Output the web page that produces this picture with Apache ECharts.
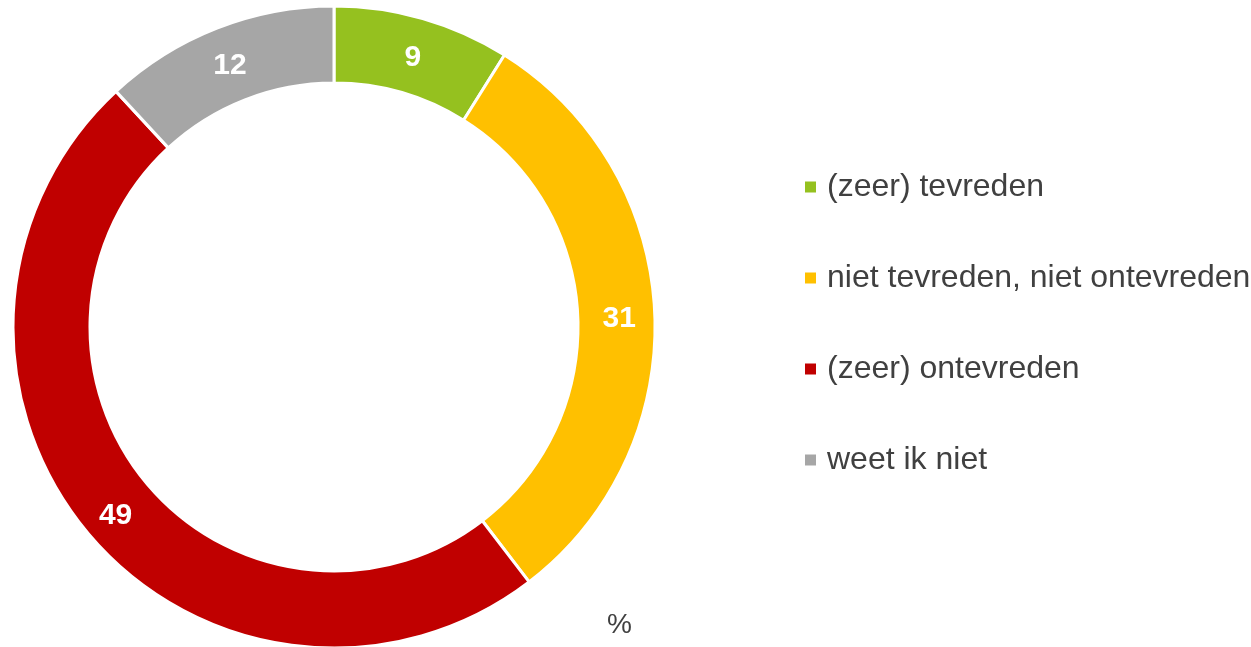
<!DOCTYPE html>
<html>
<head>
<meta charset="utf-8">
<script src="https://cdn.jsdelivr.net/npm/echarts@6/dist/echarts.min.js"></script>
<style>
  html, body { margin: 0; padding: 0; background: #fff; }
  #chart { width: 1251px; height: 647px; }
</style>
</head>
<body>
<div id="chart"></div>
<script>
  // categories and percentages
  const categories = ['(zeer) tevreden', 'niet tevreden, niet ontevreden', '(zeer) ontevreden', 'weet ik niet'];
  const values = [9, 31, 49, 12];
  const colors = ['#95C11F', '#FFC000', '#C00000', '#A6A6A6'];

  let chart = echarts.init(document.getElementById('chart'));
  chart.setOption({
    animation: false,
    color: colors,
    textStyle: {
      fontFamily: '"Liberation Sans", Arial, sans-serif'
    },
    legend: {
      orient: 'vertical',
      left: 803,
      top: 170,
      padding: 0,
      icon: 'rect',
      itemWidth: 13,
      itemHeight: 13,
      itemGap: 57,
      data: categories,
      textStyle: {
        fontSize: 32,
        color: '#404040',
        lineHeight: 34,
        padding: [0, 0, 0, 5]
      }
    },
    graphic: [
      {
        type: 'text',
        left: 607,
        top: 611,
        style: {
          text: '%',
          fontSize: 28,
          fill: '#404040',
          fontFamily: '"Liberation Sans", Arial, sans-serif'
        }
      }
    ],
    series: [
      {
        name: 'tevredenheid',
        type: 'pie',
        center: [334, 327],
        radius: [244, 321],
        startAngle: 90,
        clockwise: true,
        avoidLabelOverlap: false,
        itemStyle: {
          borderColor: '#fff',
          borderWidth: 3
        },
        label: {
          show: true,
          position: 'inside',
          formatter: '{c}',
          color: '#fff',
          fontSize: 30,
          fontWeight: 'bold',
          offset: [0, 5]
        },
        labelLine: { show: false },
        emphasis: { disabled: true },
        data: categories.map((name, i) => ({ name: name, value: values[i] }))
      }
    ]
  });
</script>
</body>
</html>
